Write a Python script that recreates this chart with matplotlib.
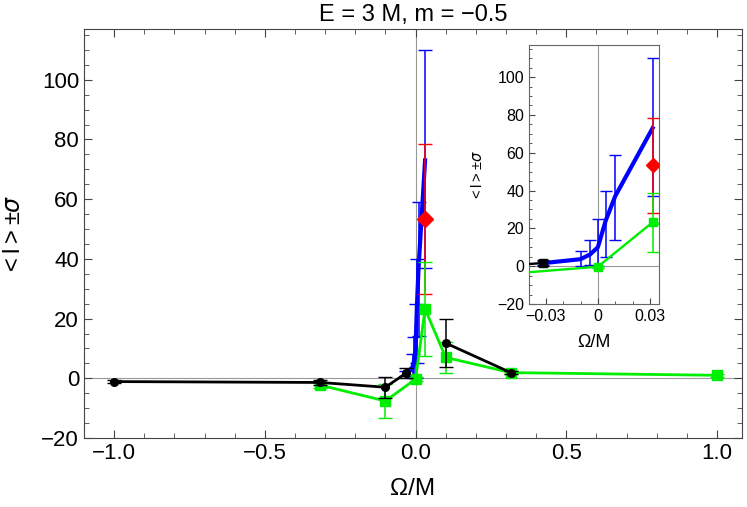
import matplotlib
matplotlib.use("Agg")
import matplotlib.pyplot as plt
from matplotlib.ticker import MultipleLocator, FixedLocator

plt.rcParams['font.family'] = ['Liberation Sans', 'DejaVu Sans']
plt.rcParams['mathtext.fontset'] = 'dejavusans'

# black: larger |Omega| values (two separate pieces)
x_black_neg = [-1.0, -0.316, -0.1, -0.0316]
y_black_neg = [-1.1, -1.4, -3.0, 1.7]
e_black_neg = [0.4, 0.8, 3.5, 1.6]
x_black_pos = [0.1, 0.316]
y_black_pos = [11.8, 1.9]
e_black_pos = [8.0, 0.5]

# blue: small Omega values (asymmetric errors)
x_blue = [-0.0316, -0.01, -0.0045, 0.0, 0.0045, 0.01, 0.0316]
y_blue = [1.6, 3.7, 6.2, 10.0, 24.0, 37.0, 73.0]
lo_blue = [1.0, 3.7, 5.7, 10.0, 19.0, 23.0, 36.0]
hi_blue = [1.0, 4.3, 7.6, 15.0, 16.0, 22.0, 37.0]

# red: single point
x_red = [0.0316]
y_red = [53.3]
e_red = [25.2]

# green
x_green = [-0.316, -0.1, 0.0, 0.0316, 0.1, 0.316, 1.0]
y_green = [-2.3, -7.6, -0.3, 23.2, 7.0, 1.9, 1.0]
e_green = [0.8, 5.8, 0.6, 15.6, 5.1, 0.5, 0.5]

main_xticks = [-1.0, -0.5, 0.0, 0.5, 1.0]
main_yticks = [-20, 0, 20, 40, 60, 80, 100]
inset_xticks = [-0.03, 0.0, 0.03]
inset_xlabels = ['\u22120.03', '0', '0.03']

title = 'E = 3 M, m = \u22120.5'
ylab = '<\u2009l\u2009>\u2009\u00b1' + r'$\sigma$'


def draw_series(ax, lw_thin, lw_thick, ms, cap, black_marker):
    ax.axhline(0, color='#999999', lw=0.8, zorder=0)
    ax.axvline(0, color='#999999', lw=0.8, zorder=0)
    ax.errorbar(x_blue, y_blue, yerr=[lo_blue, hi_blue], color='#0000ff',
                lw=lw_thick, elinewidth=1.1, capsize=cap, zorder=2)
    ax.errorbar(x_red, y_red, yerr=e_red, color='#ff0000', marker='D',
                ms=ms * 1.25, elinewidth=1.1, capsize=cap, lw=0, zorder=3)
    ax.errorbar(x_green, y_green, yerr=e_green, color='#00ee00', marker='s',
                ms=ms, lw=lw_thin, elinewidth=1.1, capsize=cap, zorder=4)
    for xs, ys, es in [(x_black_neg, y_black_neg, e_black_neg),
                       (x_black_pos, y_black_pos, e_black_pos)]:
        ax.errorbar(xs, ys, yerr=es, color='black', marker=black_marker,
                    ms=ms * 0.85, lw=lw_thin, elinewidth=1.1, capsize=cap, zorder=5)


def main():
    fig = plt.figure(figsize=(7.47, 5.07), dpi=100)
    ax = fig.add_axes([0.1124, 0.1361, 0.8809, 0.8067])
    draw_series(ax, 2.0, 3.0, 6.5, 5, 'o')
    ax.set_xlim(-1.1, 1.083)
    ax.set_ylim(-20, 117)
    ax.xaxis.set_major_locator(FixedLocator(main_xticks))
    ax.xaxis.set_minor_locator(MultipleLocator(0.1))
    ax.yaxis.set_major_locator(FixedLocator(main_yticks))
    ax.yaxis.set_minor_locator(MultipleLocator(5))
    ax.tick_params(which='both', direction='in', top=True, right=True,
                   labelsize=16, color='#444444')
    ax.tick_params(which='major', length=6)
    ax.tick_params(which='minor', length=3.5)
    for s in ax.spines.values():
        s.set_color('#444444')
    ax.set_xlabel('\u03a9/M', fontsize=17.5, labelpad=10)
    ax.set_ylabel(ylab, fontsize=17, labelpad=12)
    ax.set_title(title, fontsize=17, pad=6)

    ins = fig.add_axes([0.708, 0.4004, 0.174, 0.511])
    draw_series(ins, 1.7, 3.0, 6.0, 4.5, 's')
    ins.set_xlim(-0.0398, 0.0352)
    ins.set_ylim(-20, 117)
    ins.set_xticks(inset_xticks)
    ins.set_xticklabels(inset_xlabels)
    ins.xaxis.set_minor_locator(MultipleLocator(0.01))
    ins.yaxis.set_major_locator(FixedLocator(main_yticks))
    ins.yaxis.set_minor_locator(MultipleLocator(5))
    ins.tick_params(which='both', direction='in', labelsize=11.5, color='#444444')
    ins.tick_params(which='major', length=4)
    ins.tick_params(which='minor', length=2)
    for s in ins.spines.values():
        s.set_color('#666666')
    ins.set_xlabel('\u03a9/M', fontsize=13, labelpad=7)
    ins.set_ylabel(ylab, fontsize=10.5, labelpad=9)

    fig.savefig('out.png', dpi=100)


if __name__ == "__main__":
    main()
